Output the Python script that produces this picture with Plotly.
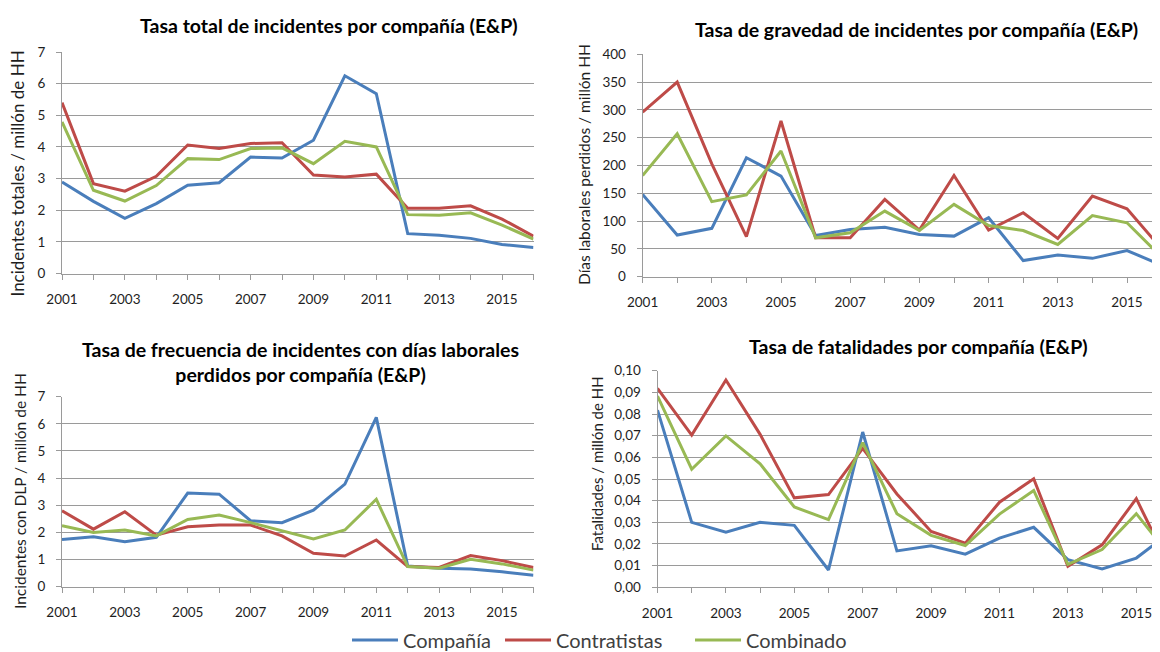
import plotly.graph_objects as go

# ---------------- data ----------------
years = list(range(2001, 2017))
year_labels = [str(y) if y % 2 == 1 else "" for y in years]
series_names = ["Compañía", "Contratistas", "Combinado"]
series_colors = ["#4A7EBB", "#BE4B48", "#98B954"]

total_compania = [2.89, 2.28, 1.74, 2.21, 2.79, 2.87, 3.68, 3.65, 4.21, 6.25, 5.68, 1.26, 1.21, 1.11, 0.92, 0.82]
total_contratistas = [5.40, 2.84, 2.60, 3.07, 4.06, 3.95, 4.11, 4.13, 3.11, 3.05, 3.14, 2.06, 2.06, 2.14, 1.72, 1.18]
total_combinado = [4.79, 2.63, 2.29, 2.78, 3.63, 3.60, 3.95, 3.97, 3.47, 4.18, 4.00, 1.86, 1.84, 1.92, 1.53, 1.09]

gravedad_compania = [148, 75, 87, 214, 181, 74, 85, 89, 76, 73, 106, 29, 39, 33, 47, 21]
gravedad_contratistas = [296, 350, 203, 72, 280, 70, 70, 139, 84, 182, 84, 115, 69, 145, 122, 50]
gravedad_combinado = [182, 257, 135, 147, 226, 70, 79, 118, 83, 130, 92, 83, 58, 110, 97, 35]

dlp_compania = [1.74, 1.84, 1.66, 1.82, 3.45, 3.41, 2.43, 2.36, 2.82, 3.78, 6.24, 0.76, 0.68, 0.65, 0.55, 0.42]
dlp_contratistas = [2.80, 2.12, 2.76, 1.90, 2.21, 2.27, 2.27, 1.87, 1.23, 1.13, 1.72, 0.74, 0.71, 1.15, 0.96, 0.71]
dlp_combinado = [2.25, 2.00, 2.09, 1.87, 2.48, 2.64, 2.36, 2.06, 1.76, 2.09, 3.22, 0.74, 0.68, 1.01, 0.84, 0.61]

fat_compania = [0.0818, 0.0300, 0.0255, 0.0300, 0.0286, 0.0080, 0.0717, 0.0168, 0.0192, 0.0153, 0.0227, 0.0277, 0.0128, 0.0085, 0.0135, 0.0255]
fat_contratistas = [0.0918, 0.0703, 0.0957, 0.0706, 0.0413, 0.0428, 0.0641, 0.0431, 0.0258, 0.0204, 0.0393, 0.0501, 0.0097, 0.0196, 0.0409, 0.0087]
fat_combinado = [0.0883, 0.0545, 0.0699, 0.0570, 0.0371, 0.0312, 0.0668, 0.0340, 0.0240, 0.0193, 0.0338, 0.0447, 0.0106, 0.0174, 0.0340, 0.0142]

titles = [
    "Tasa total de incidentes por compañía (E&P)",
    "Tasa de gravedad de incidentes por compañía (E&P)",
    "Tasa de frecuencia de incidentes con días laborales<br>perdidos por compañía (E&P)",
    "Tasa de fatalidades por compañía (E&P)",
]
y_titles = [
    "Incidentes totales / millón de HH",
    "Días laborales perdidos / millón HH",
    "Incidentes con DLP / millón de HH",
    "Fatalidades / millón de HH",
]

panels = [
    [total_compania, total_contratistas, total_combinado],
    [gravedad_compania, gravedad_contratistas, gravedad_combinado],
    [dlp_compania, dlp_contratistas, dlp_combinado],
    [fat_compania, fat_contratistas, fat_combinado],
]

# ---------------- layout geometry ----------------
W, H = 1160, 652
OFF = 8  # the page body adds an 8px margin; compensate
FONT = "Lato, 'Open Sans', sans-serif"
GRID = "#9a9a9a"
TXT = "#1e1e1e"


def px(x):
    return (x - OFF) / W


def py(y):
    return 1 - (y - OFF) / H


# plot areas in reference pixel coordinates: (left, right, top, bottom)
boxes = [(62, 533.5, 52, 273.5), (642.6, W + OFF, 54.3, 276.7),
         (62, 533.5, 396.7, 586.7), (657.5, W + OFF, 370.7, 587.3)]
year_px = [31.43, 34.6, 31.43, 34.2]
y_ranges = [[0, 7], [0, 400], [0, 7], [0, 0.10]]
y_dticks = [1, 50, 1, 0.01]
y_formats = ["d", "d", "d", ".2f"]

fig = go.Figure()
legend_ids = ["legend", "legend2", "legend3"]

for p, data in enumerate(panels):
    xa = "x" if p == 0 else f"x{p + 1}"
    ya = "y" if p == 0 else f"y{p + 1}"
    for s, vals in enumerate(data):
        fig.add_trace(go.Scatter(
            x=years, y=vals, mode="lines", name=series_names[s],
            line=dict(color=series_colors[s], width=3),
            xaxis=xa, yaxis=ya, legend=legend_ids[s],
            showlegend=(p == 0),
        ))

layout = dict(
    width=W, height=H,
    margin=dict(l=0, r=0, t=0, b=0, autoexpand=False),
    paper_bgcolor="white", plot_bgcolor="white",
    separators=",.",
    font=dict(family=FONT, color=TXT, size=13),
)

legend_left = [357, 510, 700]
for lid, lx in zip(legend_ids, legend_left):
    layout[lid] = dict(
        orientation="h", x=px(lx - 10), xanchor="left", y=py(640), yanchor="middle",
        font=dict(family=FONT, size=20, color="#404040"),
        itemwidth=46, bgcolor="rgba(0,0,0,0)",
    )

for p in range(4):
    xk = "xaxis" if p == 0 else f"xaxis{p + 1}"
    yk = "yaxis" if p == 0 else f"yaxis{p + 1}"
    ya = "y" if p == 0 else f"y{p + 1}"
    xa = "x" if p == 0 else f"x{p + 1}"
    l, r, t, b = boxes[p]
    x_end = 2001 + (r - l) / year_px[p]
    layout[xk] = dict(
        domain=[px(l), min(px(r), 1.0)], range=[2001, x_end], anchor=ya,
        tickmode="array", tickvals=years, ticktext=year_labels,
        ticks="outside", ticklen=5, tickcolor=GRID, tickwidth=1,
        ticklabelstandoff=8,
        showline=True, linecolor=GRID, linewidth=1,
        showgrid=False, zeroline=False, fixedrange=True, automargin=False,
        tickfont=dict(family=FONT, size=13.5, color=TXT),
    )
    layout[yk] = dict(
        domain=[py(b), py(t)], range=y_ranges[p], anchor=xa,
        dtick=y_dticks[p], tick0=0, tickformat=y_formats[p],
        ticks="outside", ticklen=5, tickcolor=GRID, tickwidth=1,
        ticklabelstandoff=8,
        showline=True, linecolor=GRID, linewidth=1,
        showgrid=True, gridcolor=GRID, gridwidth=1,
        zeroline=False, fixedrange=True, automargin=False,
        tickfont=dict(family=FONT, size=13.5, color=TXT),
    )

fig.update_layout(**layout)

# subplot titles
title_pos = [(329, 26), (916, 29.5), (300, 362), (918, 346.7)]
for t, (tx, ty) in zip(titles, title_pos):
    fig.add_annotation(
        text=f"<b>{t}</b>", x=px(tx), y=py(ty), xref="paper", yref="paper",
        xanchor="center", yanchor="middle", showarrow=False,
        font=dict(family=FONT, size=19.5, color="#000000"),
    )

# y-axis titles
ytitle_pos = [(17.5, 174), (584, 165), (20, 491), (597, 464)]
ytitle_size = [17, 15.5, 15.5, 15]
for t, (tx, ty), fs in zip(y_titles, ytitle_pos, ytitle_size):
    fig.add_annotation(
        text=t, x=px(tx), y=py(ty), xref="paper", yref="paper",
        xanchor="center", yanchor="middle", showarrow=False, textangle=-90,
        font=dict(family=FONT, size=fs, color=TXT),
    )

fig.write_html("out.html")
